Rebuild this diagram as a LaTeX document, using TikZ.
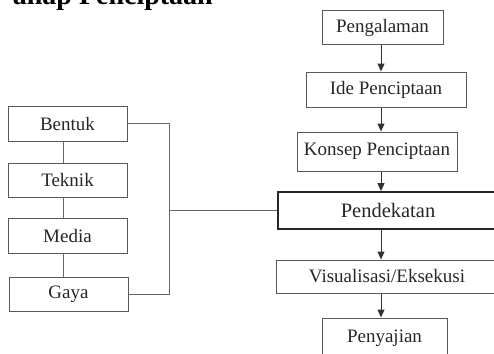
\documentclass[tikz,border=0pt]{standalone}
\usepackage{fontspec}
\setmainfont{Liberation Serif}
\usetikzlibrary{arrows.meta, positioning}
\tikzset{
  box/.style={
    draw=black!65,
    line width=1pt,
    rectangle,
    inner sep=0pt,
    align=center,
    text=black!85,
    font=\fontsize{19}{22}\selectfont,
  },
  boxtebal/.style={
    box,
    draw=black!85,
    line width=1.8pt,
    font=\fontsize{20.5}{23}\selectfont
  },
  arrow/.style={
    -{Triangle[width=7pt,length=8pt]},
    line width=1pt,
    draw=black!80
  },
  link/.style={
    line width=1pt,
    draw=black!60
  }
}
\begin{document}
\begin{tikzpicture}[x=1pt, y=-1pt]
  \useasboundingbox (0,0) rectangle (494,353);

  % Judul
  \node[anchor=base east, inner sep=0pt, font=\fontsize{28}{32}\selectfont\bfseries] (judul) at (213,4.5) {ahap Penciptaan};

  % Tahap
  \node[box, minimum width=121pt, minimum height=34pt] (peng) at (382.5,28) {Pengalaman};
  \node[box, minimum width=160pt, minimum height=35pt] (ide) at (386,89.5) {Ide Penciptaan};
  \node[box, minimum width=160pt, minimum height=39pt] (konsep) at (377,151.5) {Konsep Penciptaan};
  \node[boxtebal, minimum width=220pt, minimum height=37pt] (pend) at (388,210.5) {Pendekatan};
  \node[box, minimum width=222pt, minimum height=33pt] (visual) at (387,276.5) {Visualisasi/Eksekusi};
  \node[box, minimum width=125pt, minimum height=40pt] (saji) at (384.5,338) {Penyajian};

  % Unsur
  \node[box, minimum width=119pt, minimum height=35pt] (bentuk) at (67.5,123.5) {Bentuk};
  \node[box, minimum width=119pt, minimum height=34pt] (teknik) at (67.5,180) {Teknik};
  \node[box, minimum width=119pt, minimum height=35pt] (media) at (67.5,235.5) {Media};
  \node[box, minimum width=119pt, minimum height=34pt] (gaya) at (68.5,294) {Gaya};

  \coordinate (sumbu) at (381,0);
  \coordinate (kiri) at (63,0);
  \coordinate (kurung) at (169,0);

  % Panah tahap
  \draw[arrow] (sumbu |- peng.south) -- (sumbu |- ide.north);
  \draw[arrow] (sumbu |- ide.south) -- (sumbu |- konsep.north);
  \draw[arrow] (sumbu |- konsep.south) -- (sumbu |- pend.north);
  \draw[arrow] (sumbu |- pend.south) -- (sumbu |- visual.north);
  \draw[arrow] (sumbu |- visual.south) -- (sumbu |- saji.north);

  % Garis unsur
  \draw[link] (kiri |- bentuk.south) -- (kiri |- teknik.north);
  \draw[link] (kiri |- teknik.south) -- (kiri |- media.north);
  \draw[link] (kiri |- media.south) -- (kiri |- gaya.north);

  % Kurung ke pendekatan
  \draw[link] (bentuk.east) -- (bentuk.east -| kurung) -- (gaya.east -| kurung) -- (gaya.east);
  \draw[link] (pend.west) -- (pend.west -| kurung);

\end{tikzpicture}
\end{document}
